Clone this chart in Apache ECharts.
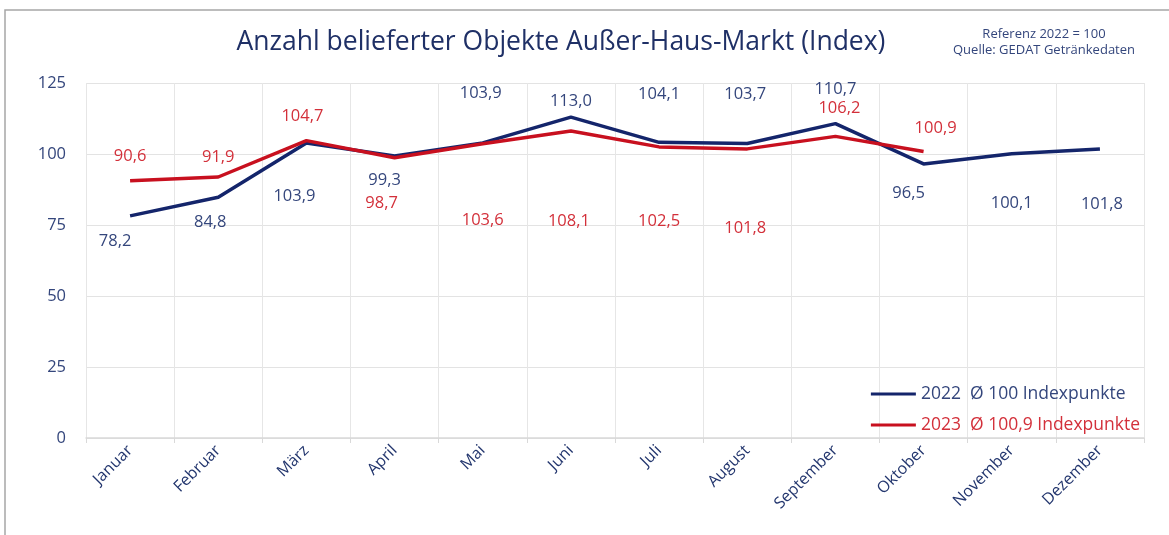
<!DOCTYPE html>
<html style="height: 100%">
    <head>
        <meta charset="utf-8">
    </head>
    <body style="height: 100%; margin: 0; background: #fff">
        <div id="container" style="width: 1169px; height: 535px"></div>

        <script type="text/javascript" src="https://cdn.jsdelivr.net/npm/echarts@6/dist/echarts.min.js"></script>
        <script type="text/javascript">
var months = ['Januar', 'Februar', 'März', 'April', 'Mai', 'Juni', 'Juli', 'August', 'September', 'Oktober', 'November', 'Dezember'];
var values2022 = [78.2, 84.8, 103.9, 99.3, 103.9, 113.0, 104.1, 103.7, 110.7, 96.5, 100.1, 101.8];
var values2023 = [90.6, 91.9, 104.7, 98.7, 103.6, 108.1, 102.5, 101.8, 106.2, 100.9];

// label placement (pixels from the point), as in the original
var offsets2022 = [[-15, 25], [-8, 25], [-12, 53], [-10, 24], [-2, -50], [0, -16], [0, -48], [-2, -49], [0, -34], [-15, 29], [0, 50], [2, 55]];
var offsets2023 = [[0, -24], [0, -20], [-4, -24], [-13, 46], [0, 77], [-2, 90], [0, 74], [-2, 79], [4, -28], [12, -23]];

var navy = '#14256b';
var navyText = '#34467c';
var red = '#c8101f';
var redText = '#d3303a';

function fmt(v) {
    return v.toFixed(1).replace('.', ',');
}

function buildData(values, offsets, color) {
    return values.map(function (v, i) {
        return {
            value: v,
            label: {
                show: true,
                position: 'inside',
                offset: offsets[i],
                color: color,
                fontSize: 16.5,
                fontFamily: 'Open Sans',
                formatter: function (p) { return fmt(p.value); }
            }
        };
    });
}

var myChart = echarts.init(document.getElementById('container'));

var option = {
    animation: false,
    backgroundColor: '#fff',
    textStyle: {fontFamily: 'Open Sans'},
    graphic: [
        {
            type: 'rect',
            shape: {x: 5, y: 10, width: 1300, height: 700},
            style: {fill: 'none', stroke: '#a6a6a6', lineWidth: 1.5},
            silent: true
        },
        {
            type: 'text',
            x: 1044, y: 26,
            style: {
                text: 'Referenz 2022 = 100\nQuelle: GEDAT Getränkedaten',
                fill: '#34467c', font: '13px "Open Sans"', align: 'center', lineHeight: 16
            }
        }
    ],
    title: {
        text: 'Anzahl belieferter Objekte Außer-Haus-Markt (Index)',
        left: 556, top: 24, textAlign: 'center',
        textStyle: {color: '#1f3066', fontSize: 26.5, fontWeight: 'normal', fontFamily: 'Open Sans'}
    },
    legend: {
        orient: 'vertical',
        right: 24, top: 380,
        itemWidth: 45, itemHeight: 3, itemGap: 13,
        icon: 'rect',
        textStyle: {fontSize: 17.5, fontFamily: 'Open Sans'},
        data: [
            {name: '2022', itemStyle: {color: navy, opacity: 1}, textStyle: {color: navyText}},
            {name: '2023', itemStyle: {color: red, opacity: 1}, textStyle: {color: redText}}
        ],
        formatter: function (name) {
            return name === '2022' ? '2022  Ø 100 Indexpunkte' : '2023  Ø 100,9 Indexpunkte';
        }
    },
    grid: {left: 86, right: 25, top: 83, bottom: 97},
    xAxis: {
        type: 'category',
        data: months,
        boundaryGap: true,
        axisLine: {lineStyle: {color: '#d9d9d9', width: 1.5}},
        axisTick: {show: true, length: 5, lineStyle: {color: '#d9d9d9'}},
        splitLine: {show: true, lineStyle: {color: '#e6e6e6'}},
        axisLabel: {rotate: 45, color: '#23366e', fontSize: 16, margin: 10, interval: 0}
    },
    yAxis: {
        type: 'value',
        min: 0, max: 125, interval: 25,
        axisLine: {show: false},
        axisTick: {show: false},
        splitLine: {lineStyle: {color: '#e3e3e3'}},
        axisLabel: {color: '#34467c', fontSize: 16.5, margin: 20}
    },
    series: [
        {
            name: '2022',
            type: 'line',
            data: buildData(values2022, offsets2022, navyText),
            symbol: 'circle',
            symbolSize: 1,
            showSymbol: true,
            itemStyle: {color: 'rgba(0,0,0,0)', borderWidth: 0},
            lineStyle: {color: navy, width: 3.5},
            z: 2
        },
        {
            name: '2023',
            type: 'line',
            data: buildData(values2023, offsets2023, redText),
            symbol: 'circle',
            symbolSize: 1,
            showSymbol: true,
            itemStyle: {color: 'rgba(0,0,0,0)', borderWidth: 0},
            lineStyle: {color: red, width: 3.5},
            z: 3
        }
    ]
};

myChart.setOption(option);
        </script>
    </body>
</html>
